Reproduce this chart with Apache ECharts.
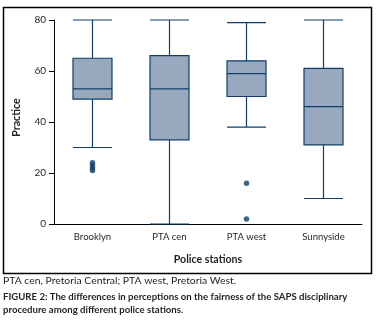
<!DOCTYPE html>
<html>
<head>
<meta charset="utf-8">
<script src="https://cdn.jsdelivr.net/npm/echarts@6/dist/echarts.min.js"></script>
<style>
  html, body { margin: 0; padding: 0; background: #fff; }
  #chart { width: 378px; height: 328px; }
</style>
</head>
<body>
<div id="chart"></div>
<script>
// police stations
const categories = ['Brooklyn', 'PTA cen', 'PTA west', 'Sunnyside']
// [min, Q1, median, Q3, max]
const boxValues = [
  [30, 49, 53, 65, 80],
  [0, 33, 53, 66, 80],
  [38, 50, 59, 64, 79],
  [10, 31, 46, 61, 80]
]
// outliers as [category index, value]
const outliers = [
  [0, 21], [0, 22], [0, 23], [0, 24],
  [2, 16], [2, 2]
]
const yTicks = [0, 20, 40, 60, 80]

const dark = '#0f3f68'
const fill = '#97a8bf'
const textColor = '#231f20'
const font = 'Lato'

const chart = echarts.init(document.getElementById('chart'), null, { renderer: 'canvas' })
chart.setOption({
  animation: false,
  grid: { left: 54, right: 16, top: 20, bottom: 104 },
  xAxis: {
    type: 'category',
    data: categories,
    name: 'Police stations',
    nameLocation: 'middle',
    nameGap: 30,
    nameTextStyle: { fontFamily: font, fontWeight: 'bold', fontSize: 10.6, color: textColor },
    axisLine: { lineStyle: { color: '#000', width: 1 } },
    axisTick: { length: 4, lineStyle: { color: '#000' } },
    axisLabel: { fontFamily: font, fontSize: 9.5, color: textColor, margin: 8 },
    splitLine: { show: false }
  },
  yAxis: {
    type: 'value',
    min: yTicks[0],
    max: yTicks[yTicks.length - 1],
    interval: 20,
    axisLine: { show: true, lineStyle: { color: '#000', width: 1 } },
    axisTick: { show: true, length: 5, lineStyle: { color: '#000' } },
    axisLabel: { fontFamily: font, fontSize: 10, color: textColor, margin: 8 },
    splitLine: { show: false }
  },
  series: [{
    type: 'boxplot',
    data: boxValues,
    boxWidth: [39, 39],
    itemStyle: { color: fill, borderColor: dark, borderWidth: 1.2 }
  }, {
    type: 'scatter',
    data: outliers,
    symbolSize: 5.5,
    itemStyle: { color: dark }
  }],
  graphic: [{
    type: 'rect',
    shape: { x: 3.5, y: 7.5, width: 368, height: 266 },
    style: { fill: 'none', stroke: '#000', lineWidth: 1.5 },
    silent: true
  }, {
    type: 'text',
    x: 17, y: 117.5,
    rotation: Math.PI / 2,
    style: {
      text: 'Practice', font: 'bold 10.6px Lato', fill: textColor,
      align: 'center', verticalAlign: 'middle'
    }
  }, {
    type: 'text',
    left: 3, top: 276,
    style: { text: 'PTA cen, Pretoria Central; PTA west, Pretoria West.', font: '10.4px Lato', fill: textColor }
  }, {
    type: 'text',
    left: 3, top: 290,
    style: {
      text: 'FIGURE 2: The differences in perceptions on the fairness of the SAPS disciplinary\nprocedure among different police stations.',
      font: 'bold 9.6px Lato', fill: textColor, lineHeight: 13
    }
  }]
})
</script>
</body>
</html>
